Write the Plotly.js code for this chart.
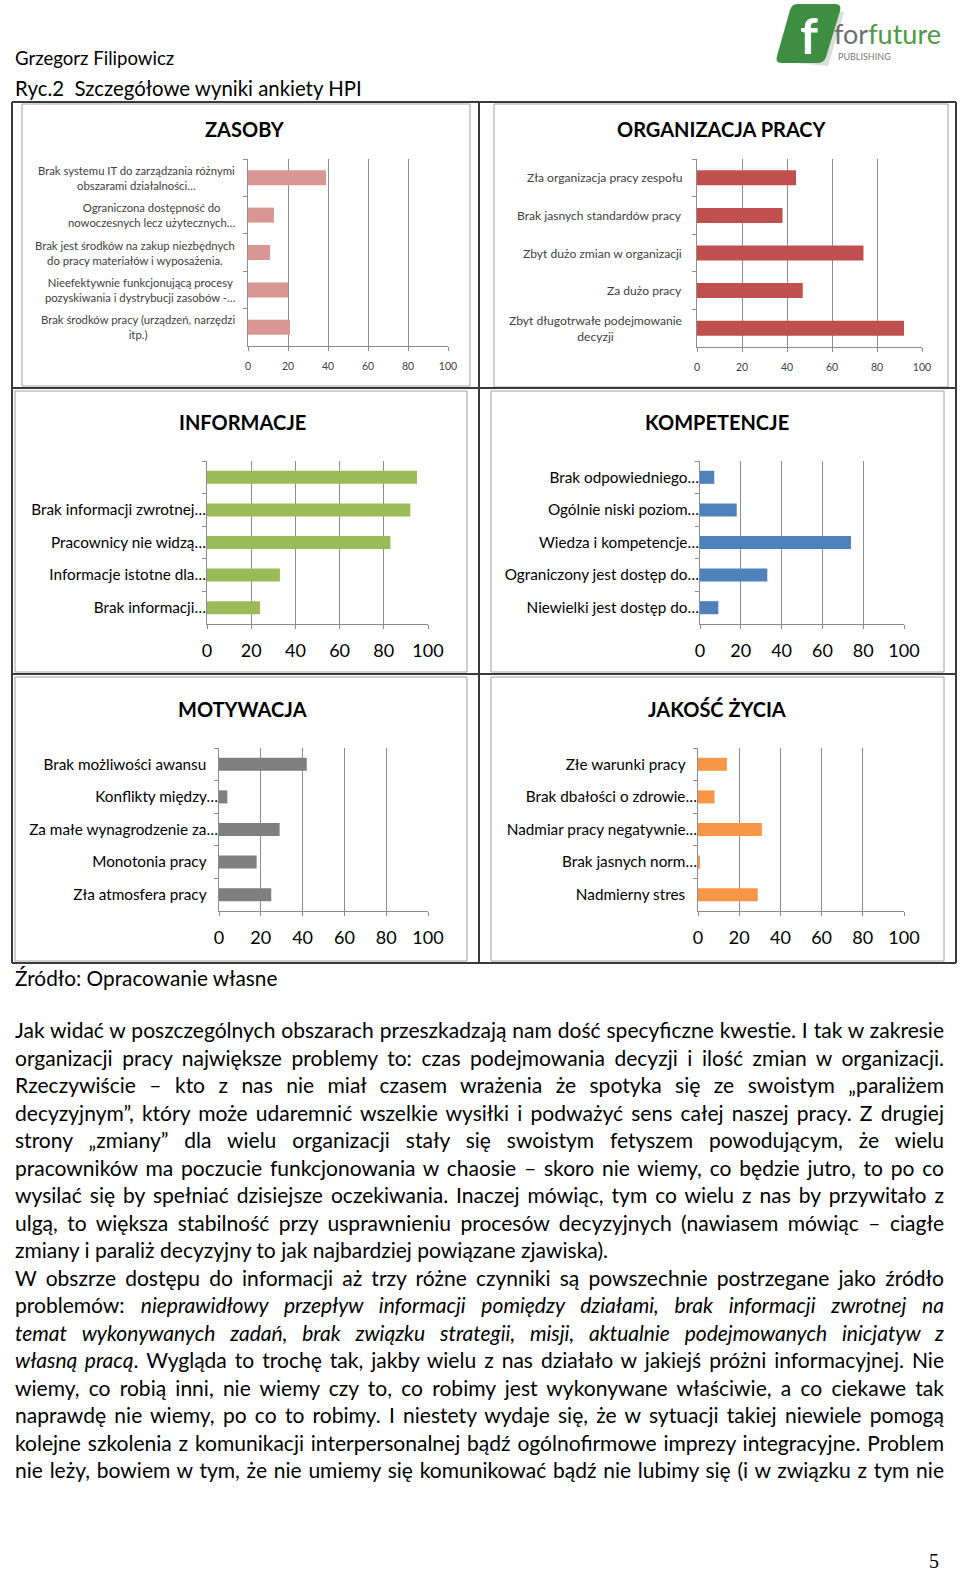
<!DOCTYPE html>
<html>
<head>
<meta charset="utf-8">
<script src="https://cdn.plot.ly/plotly-3.0.1.min.js"></script>
<style>
  html, body { margin:0; padding:0; background:#fff; }
  body { width:960px; height:1578px; position:relative; overflow:hidden; font-family:Lato, "Open Sans", sans-serif; color:#000; }
  #plot { position:absolute; left:0; top:0; width:960px; height:1578px; }
  .txt { position:absolute; white-space:pre; }
</style>
</head>
<body>
<div id="plot"></div>
<div class="txt" style="left:15px;top:47px;font-size:18.6px;line-height:22px;">Grzegorz Filipowicz</div>
<div class="txt" style="left:15px;top:76px;font-size:20.4px;line-height:24px;">Ryc.2  Szczegółowe wyniki ankiety HPI</div>
<div class="txt" style="left:15px;top:965px;font-size:20.8px;line-height:26px;">Źródło: Opracowanie własne</div>
<div class="txt" style="left:929px;top:1548px;font-size:20px;line-height:26px;font-family:'Liberation Serif',serif;">5</div>
<script>
// ---------- data ----------
const xTicks = [0, 20, 40, 60, 80, 100];

const zasobyLabels = [
  'Brak systemu IT do zarządzania różnymi<br>obszarami działalności…',
  'Ograniczona dostępność do<br>nowoczesnych lecz użytecznych…',
  'Brak jest środków na zakup niezbędnych<br>do pracy materiałów i wyposażenia.',
  'Nieefektywnie funkcjonującą procesy<br>pozyskiwania i dystrybucji zasobów -…',
  'Brak środków pracy (urządzeń, narzędzi<br>itp.)'
];
const zasobyValues = [39, 13, 11, 20, 21];

const organizacjaLabels = [
  'Zła organizacja pracy zespołu',
  'Brak jasnych standardów pracy',
  'Zbyt dużo zmian w organizacji',
  'Za dużo pracy',
  'Zbyt długotrwałe podejmowanie<br>decyzji'
];
const organizacjaValues = [44, 38, 74, 47, 92];

const informacjeLabels = [
  ' ',
  'Brak informacji zwrotnej…',
  'Pracownicy nie widzą…',
  'Informacje istotne dla…',
  'Brak informacji…'
];
const informacjeValues = [95, 92, 83, 33, 24];

const kompetencjeLabels = [
  'Brak odpowiedniego…',
  'Ogólnie niski poziom…',
  'Wiedza i kompetencje…',
  'Ograniczony jest dostęp do…',
  'Niewielki jest dostęp do…'
];
const kompetencjeValues = [7, 18, 74, 33, 9];

const motywacjaLabels = [
  'Brak możliwości awansu',
  'Konflikty między…',
  'Za małe wynagrodzenie za…',
  'Monotonia pracy',
  'Zła atmosfera pracy'
];
const motywacjaValues = [42, 4, 29, 18, 25];

const jakoscLabels = [
  'Złe warunki pracy',
  'Brak dbałości o zdrowie…',
  'Nadmiar pracy negatywnie…',
  'Brak jasnych norm…',
  'Nadmierny stres'
];
const jakoscValues = [14, 8, 31, 1, 29];

const panelTitles = ['ZASOBY', 'ORGANIZACJA PRACY', 'INFORMACJE', 'KOMPETENCJE', 'MOTYWACJA', 'JAKOŚĆ ŻYCIA'];

const paragraphLines = [
  'Jak widać w poszczególnych obszarach przeszkadzają nam dość specyficzne kwestie. I tak w zakresie',
  'organizacji pracy największe problemy to: czas podejmowania decyzji i ilość zmian w organizacji.',
  'Rzeczywiście – kto z nas nie miał czasem wrażenia że spotyka się ze swoistym „paraliżem',
  'decyzyjnym”, który może udaremnić wszelkie wysiłki i podważyć sens całej naszej pracy. Z drugiej',
  'strony „zmiany” dla wielu organizacji stały się swoistym fetyszem powodującym, że wielu',
  'pracowników ma poczucie funkcjonowania w chaosie – skoro nie wiemy, co będzie jutro, to po co',
  'wysilać się by spełniać dzisiejsze oczekiwania. Inaczej mówiąc, tym co wielu z nas by przywitało z',
  'ulgą, to większa stabilność przy usprawnieniu procesów decyzyjnych (nawiasem mówiąc – ciagłe',
  'zmiany i paraliż decyzyjny to jak najbardziej powiązane zjawiska).',
  'W obszrze dostępu do informacji aż trzy różne czynniki są powszechnie postrzegane jako źródło',
  'problemów: <i>nieprawidłowy przepływ informacji pomiędzy działami, brak informacji zwrotnej na</i>',
  '<i>temat wykonywanych zadań, brak związku strategii, misji, aktualnie podejmowanych inicjatyw z</i>',
  '<i>własną pracą</i>. Wygląda to trochę tak, jakby wielu z nas działało w jakiejś próżni informacyjnej. Nie',
  'wiemy, co robią inni, nie wiemy czy to, co robimy jest wykonywane właściwie, a co ciekawe tak',
  'naprawdę nie wiemy, po co to robimy. I niestety wydaje się, że w sytuacji takiej niewiele pomogą',
  'kolejne szkolenia z komunikacji interpersonalnej bądź ogólnofirmowe imprezy integracyjne. Problem',
  'nie leży, bowiem w tym, że nie umiemy się komunikować bądź nie lubimy się (i w związku z tym nie'
];
const paragraphEnds = [8];

// ---------- layout helpers ----------
const W = 960, H = 1578;
const X = p => p / W;
const Y = p => 1 - p / H;
const FONT = 'Lato, "Open Sans", sans-serif';

const panels = [
  {labels: zasobyLabels, values: zasobyValues, color: '#D99694', small: true, labelSize: 11.3,
   dom: [248, 448, 159, 346], titleAt: [245, 129], labelRight: 237},
  {labels: organizacjaLabels, values: organizacjaValues, color: '#C0504D', small: true, labelSize: 12.1,
   dom: [697, 922, 159, 347], titleAt: [722, 129], labelRight: 684},
  {labels: informacjeLabels, values: informacjeValues, color: '#9BBB59', small: false,
   dom: [207, 428, 461, 624], titleAt: [242, 422]},
  {labels: kompetencjeLabels, values: kompetencjeValues, color: '#4F81BD', small: false,
   dom: [700, 904, 461, 624], titleAt: [717, 422]},
  {labels: motywacjaLabels, values: motywacjaValues, color: '#7F7F7F', small: false,
   dom: [219, 428, 748, 911], titleAt: [242, 709]},
  {labels: jakoscLabels, values: jakoscValues, color: '#F79646', small: false,
   dom: [698, 904, 748, 911], titleAt: [717, 709]}
];

const GRID = '#8c8c8c';
const traces = [];
const layout = {
  width: W, height: H,
  margin: {l: 0, r: 0, t: 0, b: 0},
  paper_bgcolor: '#ffffff', plot_bgcolor: 'rgba(0,0,0,0)',
  showlegend: false, bargap: 0.6,
  font: {family: FONT},
  annotations: [], shapes: []
};

panels.forEach((p, i) => {
  const id = i === 0 ? '' : String(i + 1);
  const shown = p.small ? p.labels : p.labels.map(l => l.endsWith('…') || l.trim() === '' ? l : l + '\u00a0\u00a0\u00a0');
  traces.push({
    type: 'bar', orientation: 'h',
    x: p.values, y: shown,
    xaxis: 'x' + id, yaxis: 'y' + id,
    marker: {color: p.color, line: {width: 0}},
    hoverinfo: 'none'
  });
  layout['xaxis' + id] = {
    domain: [X(p.dom[0]), X(p.dom[1])], anchor: 'y' + id,
    range: [0, 100], tickvals: xTicks, ticktext: xTicks.map(String),
    showgrid: true, gridcolor: GRID, gridwidth: 1,
    showline: true, linecolor: GRID, linewidth: 1,
    ticks: 'outside', ticklen: 4, tickcolor: GRID, tickwidth: 1,
    zeroline: false, fixedrange: true,
    tickfont: {family: FONT, size: p.small ? 10.5 : 18, color: p.small ? '#404040' : '#000'},
    ticklabelstandoff: 6
  };
  layout['yaxis' + id] = {
    domain: [Y(p.dom[3]), Y(p.dom[2])], anchor: 'x' + id,
    type: 'category', autorange: 'reversed',
    showline: true, linecolor: GRID, linewidth: 1,
    ticks: 'outside', ticklen: 4, tickcolor: GRID, tickwidth: 1, tickson: 'boundaries',
    showgrid: false, zeroline: false, fixedrange: true,
    showticklabels: !p.small,
    tickfont: {family: FONT, size: 15.3, color: '#000'},
    ticklabelstandoff: -3
  };
  if (p.small) {
    p.labels.forEach(l => {
      layout.annotations.push({
        xref: 'paper', yref: 'y' + id, x: X(p.labelRight), y: l,
        xanchor: 'right', yanchor: 'middle', align: 'center',
        text: l, showarrow: false,
        font: {family: FONT, size: p.labelSize, color: '#404040'}
      });
    });
  }
  layout.annotations.push({
    xref: 'paper', yref: 'paper', x: X(p.titleAt[0]), y: Y(p.titleAt[1]),
    xanchor: 'center', yanchor: 'middle', text: '<b>' + panelTitles[i] + '</b>',
    showarrow: false, font: {family: FONT, size: 20, color: '#000'}
  });
});

// chart frames (gray) and table lines (dark)
const frames = [[22,104,470,386],[494,104,948,387],[15,391,467,672],[491,391,944,672],[15,677,467,961],[491,677,944,961]];
frames.forEach(f => layout.shapes.push({type:'rect', xref:'paper', yref:'paper',
  x0:X(f[0]), x1:X(f[2]), y0:Y(f[3]), y1:Y(f[1]), line:{color:'#a0a0a0', width:1}, fillcolor:'rgba(0,0,0,0)'}));
const darkLines = [
  [12,102,956,102],[12,388,956,388],[12,674,956,674],[12,963,956,963],
  [12,102,12,963],[956,102,956,963],[479,102,479,963]
];
darkLines.forEach(l => layout.shapes.push({type:'line', xref:'paper', yref:'paper',
  x0:X(l[0]), x1:X(l[2]), y0:Y(l[1]), y1:Y(l[3]), line:{color:'#3a3a3a', width:2}}));

// logo
const pth = pts => pts.map(c => (typeof c === 'string') ? c : (X(c[0]) + ',' + Y(c[1]))).join(' ');
layout.shapes.push({type:'path', xref:'paper', yref:'paper', line:{width:0}, fillcolor:'#dcdcdc',
  path: pth(['M',[802,8],'L',[844,12],'L',[828,66],'L',[784,62],'Z'])});
layout.shapes.push({type:'path', xref:'paper', yref:'paper', line:{width:0}, fillcolor:'#3e8e41',
  path: pth(['M',[797,4],'L',[835,4],'Q',[842,4],[840,11],'L',[826,57],'Q',[824,63],[817,63],'L',[781,63],'Q',[775,63],[777,56],'L',[790,10],'Q',[792,4],[797,4],'Z'])});
layout.annotations.push({xref:'paper', yref:'paper', x:X(809), y:Y(35), xanchor:'center', yanchor:'middle',
  text:'<b>f</b>', showarrow:false, font:{family:FONT, size:50, color:'#ffffff'}});
layout.annotations.push({xref:'paper', yref:'paper', x:X(832), y:Y(33), xanchor:'left', yanchor:'middle',
  text:'<span style="color:#6d6e70">for</span><span style="color:#4b9a44">future</span>',
  showarrow:false, font:{family:FONT, size:27, color:'#4b9a44'}});
layout.annotations.push({xref:'paper', yref:'paper', x:X(836), y:Y(56), xanchor:'left', yanchor:'middle',
  text:'PUBLISHING', showarrow:false, font:{family:FONT, size:9, color:'#7a7a7a'}});

Plotly.newPlot('plot', traces, layout, {staticPlot: true, displayModeBar: false});

// ---------- paragraph (justified lines) ----------
function buildParagraph() {
  const left = 15, width = 929, top0 = 1016, lh = 27.5, baseSize = 19;
  const spans = [];
  paragraphLines.forEach((html, i) => {
    const d = document.createElement('div');
    d.style.cssText = `position:absolute;left:${left}px;top:${top0 + i * lh}px;height:${lh}px;line-height:${lh}px;white-space:nowrap;font-family:${FONT};font-size:${baseSize}px;color:#000;`;
    const s = document.createElement('span');
    s.innerHTML = html;
    d.appendChild(s);
    document.body.appendChild(d);
    spans.push([d, s, i]);
  });
  let maxW = 0;
  spans.forEach(([d, s, i]) => { if (!paragraphEnds.includes(i)) maxW = Math.max(maxW, s.getBoundingClientRect().width); });
  const size = Math.min(22, baseSize * (width - 6) / maxW);
  spans.forEach(([d, s, i]) => {
    d.style.fontSize = size + 'px';
    if (!paragraphEnds.includes(i)) {
      const w = s.getBoundingClientRect().width;
      const n = (s.textContent.match(/ /g) || []).length;
      if (n > 0) s.style.wordSpacing = ((width - w) / n) + 'px';
    }
  });
}
if (document.fonts && document.fonts.ready) { document.fonts.ready.then(buildParagraph); } else { buildParagraph(); }
</script>
</body>
</html>
